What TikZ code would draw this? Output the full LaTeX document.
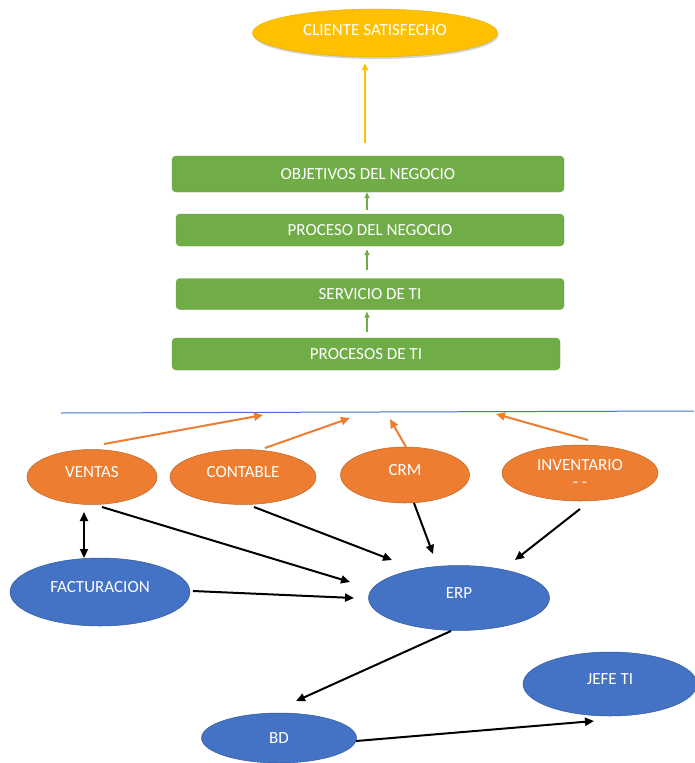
\documentclass[tikz,border=0pt]{standalone}
\usepackage{fontspec}
\setmainfont{Carlito}
\usepackage{xcolor}
\usepackage{tikz}
\usetikzlibrary{shapes.geometric, arrows.meta, positioning, calc, shadows}
\definecolor{goldyellow}{RGB}{255, 192, 0}
\definecolor{leafgreen}{RGB}{112, 173, 71}
\definecolor{officeorange}{RGB}{237, 125, 49}
\definecolor{officeblue}{RGB}{68, 114, 196}

\begin{document}
\begin{tikzpicture}[
    x=1pt, y=-1pt,
    every node/.style={font=\fontsize{17}{17}\selectfont, text=white},
    goal/.style={ellipse, fill=goldyellow, draw=goldyellow!90!black, line width=0.4pt,
                 minimum width=245pt, minimum height=48pt, inner sep=0pt,
                 text height=11pt, text depth=6pt,
                 drop shadow={opacity=0.35, shadow xshift=1pt, shadow yshift=-2pt}},
    layer/.style={rectangle, rounded corners=4pt, fill=leafgreen, draw=leafgreen!90!black,
                  line width=0.4pt, minimum width=388pt, minimum height=32pt, inner sep=0pt},
    sistema/.style={ellipse, fill=officeorange, draw=officeorange!80!black, line width=0.5pt,
                    minimum height=55pt, inner sep=0pt},
    base/.style={ellipse, fill=officeblue, draw=officeblue!80!black, line width=0.5pt, inner sep=0pt},
    uplabel/.style={text height=11pt, text depth=10pt},
    uparrow/.style={-{Triangle[length=6pt,width=5pt]}, line width=2pt, leafgreen},
    goalarrow/.style={-{Triangle[length=7pt,width=6pt]}, line width=2pt, goldyellow},
    feed/.style={-{Triangle[length=9pt,width=8pt]}, line width=2pt, officeorange},
    arrow/.style={-{Triangle[length=9pt,width=8pt]}, line width=2pt, black},
    darrow/.style={{Triangle[length=9pt,width=8pt]}-{Triangle[length=9pt,width=8pt]}, line width=2pt, black}
]
\useasboundingbox (0,0) rectangle (694,763);

\node[goal] (cliente) at (375,33) {CLIENTE SATISFECHO};
\node[layer, minimum width=392pt, minimum height=36pt] (objetivos) at (368,174) {OBJETIVOS DEL NEGOCIO};
\node[layer] (procnegocio) at (370,230) {PROCESO DEL NEGOCIO};
\node[layer, minimum height=31pt] (servicio) at (370,294) {SERVICIO DE TI};
\node[layer] (procti) at (366,354) {PROCESOS DE TI};

\draw[goalarrow, shorten <=13pt, shorten >=6pt] ([xshift=-3pt]objetivos.north) -- ([xshift=-10pt]cliente.south);
\draw[uparrow, shorten <=4pt] ([xshift=-3pt]procnegocio.north) -- ([xshift=-1pt]objetivos.south);
\draw[uparrow, shorten <=8pt, shorten >=3pt] ([xshift=-3pt]servicio.north) -- ([xshift=-3pt]procnegocio.south);
\draw[uparrow, shorten <=6pt, shorten >=2pt] ([xshift=1pt]procti.north) -- ([xshift=-3pt]servicio.south);

\coordinate (lineaizq) at (61,413);
\coordinate (lineader) at (694,411);
\draw[officeblue, line width=1pt] (lineaizq) -- (lineader);

\node[sistema, uplabel, minimum width=130pt] (ventas) at (92,477) {VENTAS};
\node[sistema, uplabel, minimum width=146pt] (contable) at (243,477) {CONTABLE};
\node[sistema, uplabel, minimum width=129pt, minimum height=56pt] (crm) at (405,475) {CRM};
\node[sistema, minimum width=156pt, minimum height=56pt, align=center] (inventario) at (580,473) {INVENTARIO\\- -};

\node[base, uplabel, minimum width=180pt, minimum height=68pt] (facturacion) at (100,592) {FACTURACION};
\node[base, uplabel, minimum width=181pt, minimum height=65pt] (erp) at (459,598) {ERP};
\node[base, uplabel, minimum width=174pt, minimum height=64pt] (jefe) at (610,684) {JEFE TI};
\node[base, minimum width=155pt, minimum height=50pt] (bd) at (279,738) {BD};

\coordinate (enlace1) at (263,415);
\coordinate (enlace2) at (350,418);
\coordinate (enlace3) at (390,419);
\coordinate (enlace4) at (496,414);
\draw[feed] ($(ventas)+(12,-33)$) -- (enlace1);
\draw[feed] ($(contable)+(22,-29)$) -- (enlace2);
\draw[feed] ($(crm)+(1,-28)$) -- (enlace3);
\draw[feed] ($(inventario)+(8,-33)$) -- (enlace4);

\draw[darrow] ($(ventas)+(-8,35)$) -- ($(facturacion)+(-16,-34)$);
\draw[arrow] ($(ventas)+(10,30)$) -- ($(erp)+(-109,-16)$);
\draw[arrow] ($(contable)+(11,30)$) -- ($(erp)+(-67,-38)$);
\draw[arrow] ($(crm)+(9,28)$) -- ($(erp)+(-26,-44)$);
\draw[arrow] ($(inventario)+(0,36)$) -- ($(erp)+(56,-38)$);
\draw[arrow] ($(facturacion)+(93,-1)$) -- ($(erp)+(-105,0)$);
\draw[arrow] ($(erp)+(-8,33)$) -- ($(bd)+(17,-37)$);
\draw[arrow] ($(bd)+(77,3)$) -- ($(jefe)+(-16,37)$);
\end{tikzpicture}
\end{document}
